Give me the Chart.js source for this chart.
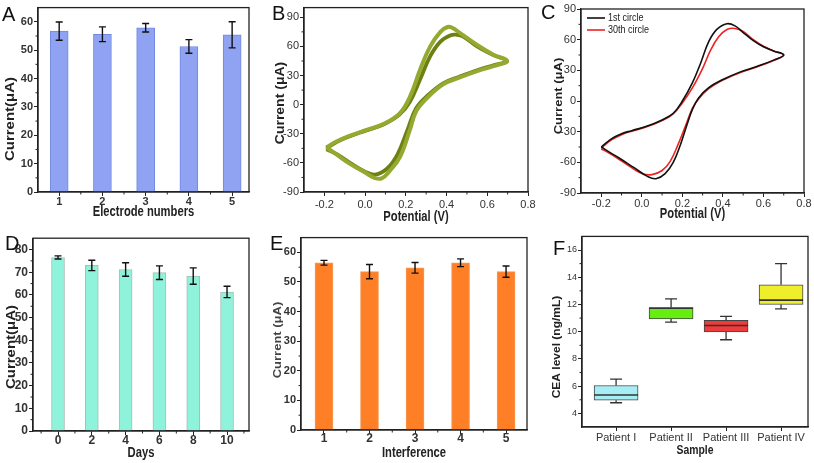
<!DOCTYPE html>
<html><head><meta charset="utf-8">
<script src="https://cdn.jsdelivr.net/npm/chart.js@4"></script>
<style>
html,body{margin:0;padding:0;background:#fff;}
body{width:814px;height:463px;position:relative;overflow:hidden;font-family:'Liberation Sans',Arial,sans-serif;}
canvas{position:absolute;}
.lbl{position:absolute;font-size:20px;line-height:1;color:#111;font-family:'Liberation Sans',Arial,sans-serif;}
</style></head><body>
<canvas id="cA"></canvas><canvas id="cB"></canvas><canvas id="cC"></canvas>
<canvas id="cD"></canvas><canvas id="cE"></canvas><canvas id="cF"></canvas>
<div class="lbl" style="left:2px;top:4px">A</div>
<div class="lbl" style="left:272px;top:3px">B</div>
<div class="lbl" style="left:541px;top:2px">C</div>
<div class="lbl" style="left:5px;top:233px">D</div>
<div class="lbl" style="left:270px;top:233px">E</div>
<div class="lbl" style="left:553px;top:238px">F</div>
<script>
// ---------------- DATA ----------------
// Panel A: reproducibility
const aElectrodes = [1, 2, 3, 4, 5];
const aCurrent = [56.7, 55.6, 57.9, 51.3, 55.4];
const aError = [3.2, 2.6, 1.5, 2.4, 4.6];
const aYTicks = [0, 10, 20, 30, 40, 50, 60];
const aYMinor = [5, 15, 25, 35, 45, 55];
const aXMinor = [1.5, 2.5, 3.5, 4.5];

// Panel B: repeated CV cycles (first / later cycle edges of the band)
const bFirstV = [-0.19,-0.14,-0.074,0,0.09,0.17,0.22,0.27,0.32,0.37,0.405,0.43,0.465,0.55,0.63,0.697,0.63,0.55,0.465,0.383,0.30,0.25,0.22,0.171,0.122,0.081,0.04,0.008,-0.074,-0.139,-0.19];
const bFirstI = [-44,-38,-32,-26.5,-20,-9,8,36,60,75,80,79,74,61.5,51.5,45,39.7,34.5,28,21,6,-7,-26,-54,-68,-76,-75,-71,-61,-51.5,-44];
const bLastV = [-0.19,-0.14,-0.074,0,0.09,0.17,0.22,0.27,0.32,0.37,0.42,0.45,0.48,0.55,0.63,0.697,0.63,0.55,0.465,0.383,0.30,0.25,0.21,0.16,0.11,0.05,0.0,-0.074,-0.139,-0.19];
const bLastI = [-45,-38.5,-32.5,-27,-20.5,-10,3,26,50,65,71.5,72,70.5,60,51,45,40.5,35.5,29,22,8,-4,-25,-51,-65.5,-72,-69,-60,-51,-46];

// Panel C: 1st vs 30th circle
const cFirstV = [-0.2,-0.15,-0.1,-0.05,0.02,0.1,0.155,0.2,0.25,0.29,0.33,0.37,0.42,0.46,0.5,0.55,0.6,0.65,0.7,0.65,0.57,0.48,0.4,0.33,0.28,0.25,0.22,0.19,0.155,0.115,0.07,0.03,-0.04,-0.11,-0.16,-0.2];
const cFirstI = [-45,-37,-32,-29,-25,-18.5,-12,0,18,37,58,70,75.6,73.5,67,59,53,49,45,40,34,28,21,13,3,-8,-25,-43,-60,-71,-76,-74,-65,-56,-50,-45];
const c30thV = [-0.2,-0.15,-0.1,-0.05,0.02,0.1,0.155,0.2,0.25,0.3,0.34,0.38,0.42,0.46,0.5,0.55,0.6,0.65,0.7,0.65,0.57,0.48,0.4,0.33,0.28,0.25,0.22,0.18,0.14,0.1,0.05,0.0,-0.06,-0.12,-0.17,-0.2];
const c30thI = [-46,-38,-33,-29.5,-25.5,-19,-12.5,-2,13,32,50,63,70,71,68,60,53.5,49,45,39.5,33.5,27.5,20.5,12,2,-7,-22,-42,-59,-68,-72,-71,-64,-56,-50,-47];
const cvXTicks = [-0.2, 0, 0.2, 0.4, 0.6, 0.8];
const cvXLabels = ['-0.2', '0.0', '0.2', '0.4', '0.6', '0.8'];
const cvXMinor = [-0.1, 0.1, 0.3, 0.5, 0.7];
const cvYTicks = [-90, -60, -30, 0, 30, 60, 90];
const cvYMinor = [-75, -45, -15, 15, 45, 75];
const cLegend = ['1st circle', '30th circle'];

// Panel D: stability over days
const dDays = [0, 2, 4, 6, 8, 10];
const dCurrent = [76.5, 73.0, 71.2, 69.8, 68.3, 61.3];
const dError = [0.7, 2.3, 3.0, 3.0, 3.6, 2.5];
const dYTicks = [0, 10, 20, 30, 40, 50, 60, 70, 80];
const dYMinor = [5, 15, 25, 35, 45, 55, 65, 75];
const dXMinor = [-1, 1, 3, 5, 7, 9, 11];

// Panel E: interference
const eInterference = [1, 2, 3, 4, 5];
const eCurrent = [56.5, 53.5, 54.8, 56.5, 53.5];
const eError = [0.8, 2.4, 1.8, 1.3, 1.9];
const eYTicks = [0, 10, 20, 30, 40, 50, 60];
const eYMinor = [5, 15, 25, 35, 45, 55];
const eXMinor = [1.5, 2.5, 3.5, 4.5];

// Panel F: CEA in patient serum (box plot)
const fPatients = ['Patient I', 'Patient II', 'Patient III', 'Patient IV'];
const fMin = [4.78, 10.71, 9.41, 11.68];
const fQ1 = [4.97, 10.93, 9.98, 12.0];
const fMedian = [5.35, 11.72, 10.45, 12.32];
const fQ3 = [6.05, 11.78, 10.83, 13.44];
const fMax = [6.52, 12.41, 11.12, 15.0];
const fColors = ['#a6eef3', '#66ee10', '#ee3b3b', '#eeee2a'];
const fYTicks = [4, 6, 8, 10, 12, 14, 16];
const fYMinor = [5, 7, 9, 11, 13, 15];

// ---------------- HELPERS ----------------
const SANS = "'Liberation Sans', Arial, sans-serif";
const AX = '#222';

function framePlugin(xMinor, yMinor) {
  return {
    id: 'frame',
    afterDraw(chart) {
      const {ctx, chartArea: {left, top, right, bottom}, scales: {x, y}} = chart;
      ctx.save();
      ctx.strokeStyle = AX; ctx.lineWidth = 1.3;
      ctx.strokeRect(left, top, right - left, bottom - top);
      ctx.lineWidth = 1;
      xMinor.forEach(v => { const p = x.getPixelForValue(v); ctx.beginPath(); ctx.moveTo(p, bottom); ctx.lineTo(p, bottom + 2.5); ctx.stroke(); });
      yMinor.forEach(v => { const p = y.getPixelForValue(v); ctx.beginPath(); ctx.moveTo(left, p); ctx.lineTo(left - 2.5, p); ctx.stroke(); });
      ctx.restore();
    }
  };
}
// axis titles drawn with a slight horizontal condensation (the source figure is squeezed)
function titlesPlugin(xText, xCy, xSize, yText, yCx, yCy, ySize, yColor) {
  return {
    id: 'titles',
    afterDraw(chart) {
      const ctx = chart.ctx, ca = chart.chartArea;
      ctx.save();
      ctx.translate((ca.left + ca.right) / 2, xCy); ctx.scale(0.8, 1);
      ctx.font = 'bold ' + xSize + 'px ' + SANS; ctx.fillStyle = '#222';
      ctx.textAlign = 'center'; ctx.textBaseline = 'middle';
      ctx.fillText(xText, 0, 0);
      ctx.restore();
      ctx.save();
      ctx.translate(yCx, yCy); ctx.scale(0.85, 1); ctx.rotate(-Math.PI / 2);
      ctx.font = 'bold ' + ySize + 'px ' + SANS; ctx.fillStyle = yColor || '#222';
      ctx.textAlign = 'center'; ctx.textBaseline = 'middle';
      ctx.fillText(yText, 0, 0);
      ctx.restore();
    }
  };
}
function errPlugin(values, errors) {
  return {
    id: 'errbars',
    afterDatasetsDraw(chart) {
      const meta = chart.getDatasetMeta(0), y = chart.scales.y, ctx = chart.ctx;
      ctx.save(); ctx.strokeStyle = '#111'; ctx.lineWidth = 1.4;
      meta.data.forEach((el, i) => {
        const t = y.getPixelForValue(values[i] + errors[i]);
        const b = y.getPixelForValue(values[i] - errors[i]);
        ctx.beginPath();
        ctx.moveTo(el.x, t); ctx.lineTo(el.x, b);
        ctx.moveTo(el.x - 3.5, t); ctx.lineTo(el.x + 3.5, t);
        ctx.moveTo(el.x - 3.5, b); ctx.lineTo(el.x + 3.5, b);
        ctx.stroke();
      });
      ctx.restore();
    }
  };
}
function boxPlugin() {
  return {
    id: 'boxwhisk',
    afterDatasetsDraw(chart) {
      const meta = chart.getDatasetMeta(0), y = chart.scales.y, ctx = chart.ctx;
      ctx.save(); ctx.strokeStyle = '#333'; ctx.lineWidth = 1.3;
      meta.data.forEach((el, i) => {
        const half = el.width / 2;
        const pMax = y.getPixelForValue(fMax[i]), pQ3 = y.getPixelForValue(fQ3[i]);
        const pMin = y.getPixelForValue(fMin[i]), pQ1 = y.getPixelForValue(fQ1[i]);
        const pMed = y.getPixelForValue(fMedian[i]);
        ctx.beginPath();
        ctx.moveTo(el.x, pQ3); ctx.lineTo(el.x, pMax);
        ctx.moveTo(el.x - 6, pMax); ctx.lineTo(el.x + 6, pMax);
        ctx.moveTo(el.x, pQ1); ctx.lineTo(el.x, pMin);
        ctx.moveTo(el.x - 6, pMin); ctx.lineTo(el.x + 6, pMin);
        ctx.stroke();
        ctx.beginPath(); ctx.lineWidth = 1.6;
        ctx.moveTo(el.x - half, pMed); ctx.lineTo(el.x + half, pMed); ctx.stroke();
        ctx.lineWidth = 1.3;
      });
      ctx.restore();
    }
  };
}
function legendPlugin() {
  return {
    id: 'cleg',
    afterDraw(chart) {
      const {ctx, chartArea: {left, top}} = chart;
      ctx.save();
      chart.data.datasets.forEach((ds, i) => {
        const yy = top + 9 + i * 12;
        ctx.strokeStyle = ds.borderColor; ctx.lineWidth = 1.6;
        ctx.beginPath(); ctx.moveTo(left + 6, yy); ctx.lineTo(left + 24, yy); ctx.stroke();
        ctx.save();
        ctx.translate(left + 27, yy); ctx.scale(0.82, 1);
        ctx.fillStyle = '#222'; ctx.font = '11px ' + SANS;
        ctx.textAlign = 'left'; ctx.textBaseline = 'middle';
        ctx.fillText(ds.label, 0, 0);
        ctx.restore();
      });
      ctx.restore();
    }
  };
}
function axis(min, max, ticks, labels, tickFont, pad) {
  return {
    type: 'linear', min, max, offset: false,
    afterBuildTicks: s => { s.ticks = ticks.map(v => ({value: v})); },
    ticks: {autoSkip: false, maxRotation: 0, color: '#333', font: tickFont, padding: pad,
            callback: (v, i) => labels[i]},
    grid: {display: true, drawOnChartArea: false, drawTicks: true, tickLength: 4, color: AX, lineWidth: 1, offset: false},
    border: {display: true, color: AX, width: 1.3}
  };
}
function panel(id, box, area, config) {
  const cv = document.getElementById(id);
  cv.width = box.w; cv.height = box.h;
  cv.style.left = box.x + 'px'; cv.style.top = box.y + 'px';
  cv.style.width = box.w + 'px'; cv.style.height = box.h + 'px';
  const o = config.options;
  o.responsive = false; o.animation = false; o.devicePixelRatio = 1;
  o.layout = {padding: {left: 0, top: area.t - box.y, right: box.x + box.w - area.r, bottom: 0}};
  o.plugins = Object.assign({legend: {display: false}, tooltip: {enabled: false}}, o.plugins || {});
  o.scales.y.afterFit = s => { s.width = area.l - box.x; };
  o.scales.x.afterFit = s => { s.height = box.y + box.h - area.b; };
  return new Chart(cv, config);
}
const bold = sz => ({family: SANS, size: sz, weight: 'bold'});
const norm = sz => ({family: SANS, size: sz, weight: 'normal'});

// ---------------- PANEL A ----------------
panel('cA', {x: 0, y: 0, w: 270, h: 230}, {l: 38, t: 3, r: 249, b: 192}, {
  type: 'bar',
  data: {datasets: [{data: aElectrodes.map((x, i) => ({x, y: aCurrent[i]})),
    backgroundColor: '#8fa3f2', borderColor: '#7189e3', borderWidth: 1, barThickness: 18}]},
  options: {scales: {
    x: axis(0.51, 5.39, aElectrodes, aElectrodes.map(String), bold(11), -1),
    y: axis(0, 65, aYTicks, aYTicks.map(String), bold(11), 1)
  }},
  plugins: [errPlugin(aCurrent, aError), framePlugin(aXMinor, aYMinor),
            titlesPlugin('Electrode numbers', 212, 14, 'Current(μA)', 10, 119, 15)]
});

// ---------------- PANEL B ----------------
panel('cB', {x: 270, y: 0, w: 270, h: 230}, {l: 304, t: 3, r: 528, b: 192}, {
  type: 'scatter',
  data: {datasets: [
    {data: bFirstV.map((x, i) => ({x, y: bFirstI[i]})), showLine: true, pointRadius: 0, borderColor: '#93a92f', borderWidth: 4, tension: 0.4},
    {data: bLastV.map((x, i) => ({x, y: bLastI[i]})), showLine: true, pointRadius: 0, borderColor: '#6d8013', borderWidth: 3.8, tension: 0.4}
  ]},
  options: {scales: {
    x: axis(-0.3, 0.8, cvXTicks, cvXLabels, norm(11), 2),
    y: axis(-90, 100, cvYTicks, cvYTicks.map(String), norm(11), 1)
  }},
  plugins: [framePlugin(cvXMinor, cvYMinor),
            titlesPlugin('Potential (V)', 217, 14, 'Current (μA)', 11, 103, 14)]
});

// ---------------- PANEL C ----------------
panel('cC', {x: 540, y: 0, w: 274, h: 230}, {l: 581, t: 9, r: 804, b: 193}, {
  type: 'scatter',
  data: {datasets: [
    {label: cLegend[0], data: cFirstV.map((x, i) => ({x, y: cFirstI[i]})), showLine: true, pointRadius: 0, borderColor: '#111111', borderWidth: 1.6, tension: 0.4},
    {label: cLegend[1], data: c30thV.map((x, i) => ({x, y: c30thI[i]})), showLine: true, pointRadius: 0, borderColor: '#ee2222', borderWidth: 1.6, tension: 0.4}
  ]},
  options: {scales: {
    x: axis(-0.3, 0.8, cvXTicks, cvXLabels, norm(11), 0),
    y: axis(-90, 90, cvYTicks, cvYTicks.map(String), norm(11), 1)
  }},
  plugins: [framePlugin(cvXMinor, cvYMinor), legendPlugin(),
            titlesPlugin('Potential (V)', 214, 14, 'Current (μA)', 19, 96, 13)]
});

// ---------------- PANEL D ----------------
panel('cD', {x: 0, y: 230, w: 270, h: 233}, {l: 33, t: 233, r: 249, b: 431}, {
  type: 'bar',
  data: {datasets: [{data: dDays.map((x, i) => ({x, y: dCurrent[i]})),
    backgroundColor: '#8ef3da', borderColor: '#a9bdb5', borderWidth: 1, barThickness: 13}]},
  options: {scales: {
    x: axis(-1.48, 11.3, dDays, dDays.map(String), bold(12), -2),
    y: axis(0, 85, dYTicks, dYTicks.map(String), bold(12), 1)
  }},
  plugins: [errPlugin(dCurrent, dError), framePlugin(dXMinor, dYMinor),
            titlesPlugin('Days', 223, 14, 'Current(μA)', 11, 117, 15)]
});

// ---------------- PANEL E ----------------
panel('cE', {x: 268, y: 230, w: 272, h: 233}, {l: 301, t: 235, r: 527, b: 430}, {
  type: 'bar',
  data: {datasets: [{data: eInterference.map((x, i) => ({x, y: eCurrent[i]})),
    backgroundColor: '#ff7f27', borderColor: '#f39a55', borderWidth: 1, barThickness: 18}]},
  options: {scales: {
    x: axis(0.495, 5.46, eInterference, eInterference.map(String), bold(12), -3),
    y: axis(0, 65, eYTicks, eYTicks.map(String), bold(11), 1)
  }},
  plugins: [errPlugin(eCurrent, eError), framePlugin(eXMinor, eYMinor),
            titlesPlugin('Interference', 223, 14, 'Current (μA)', 10, 110, 13, '#444')]
});

// ---------------- PANEL F ----------------
panel('cF', {x: 540, y: 230, w: 274, h: 233}, {l: 582, t: 234, r: 808, b: 427}, {
  type: 'bar',
  data: {datasets: [{data: fPatients.map((p, i) => ({x: i + 1, y: [fQ1[i], fQ3[i]]})),
    backgroundColor: fColors, borderColor: '#444', borderWidth: 1, borderSkipped: false, barThickness: 44}]},
  options: {scales: {
    x: axis(0.38, 4.49, [1, 2, 3, 4], fPatients, norm(11), 0),
    y: axis(3, 17, fYTicks, fYTicks.map(String), norm(9), 1)
  }},
  plugins: [boxPlugin(), framePlugin([], fYMinor),
            titlesPlugin('Sample', 220, 13, 'CEA level (ng/mL)', 17, 117, 12)]
});
</script>
</body></html>
